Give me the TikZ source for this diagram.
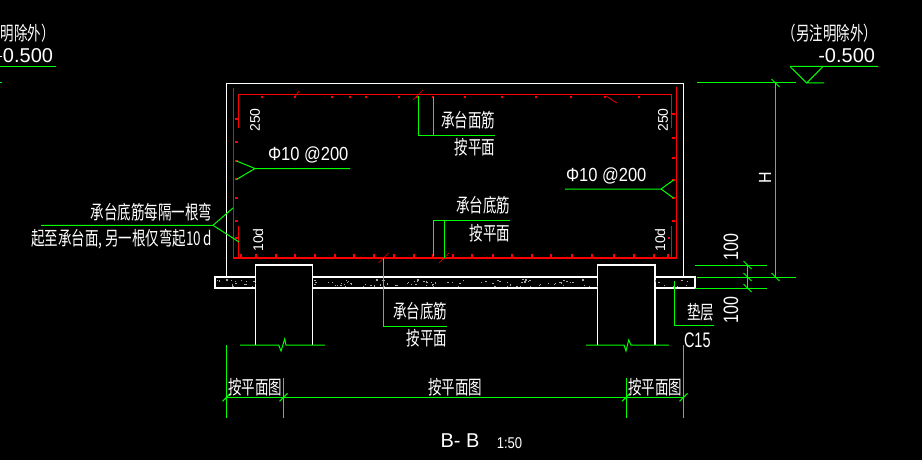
\documentclass[tikz,border=0pt]{standalone}
\usepackage{fontspec}
\setmainfont{Liberation Sans}
\newfontfamily\cjkfont{Noto Sans CJK SC}
\definecolor{cadgreen}{RGB}{0,255,0}
\definecolor{cadred}{RGB}{255,0,0}
\newcommand{\zh}[1]{\scalebox{1}[1.42]{\fontsize{13.5}{14}\cjkfont #1}}
\newcommand{\lat}[3]{\scalebox{1}[#2]{\fontsize{#1}{#1}\selectfont #3}}
\newcommand{\gtick}[2]{\draw[gline] (#1-4,#2+4) -- (#1+4,#2-4);}
\newcommand{\gback}[2]{\draw[gline] (#1-4,#2-4) -- (#1+4,#2+4);}
\newcommand{\rtick}[2]{\draw[rline,line width=.7pt] (#1-5,#2+5) -- (#1+5,#2-5);}
\newcommand{\rdot}[2]{\fill[cadred] (#1-1.2,#2-1.2) rectangle (#1+1.2,#2+1.2);}
\tikzset{
  wline/.style={draw=white,line width=1.15pt},
  rline/.style={draw=cadred,line width=1.15pt},
  gline/.style={draw=cadgreen,line width=1pt},
  lbl/.style={text=white,inner sep=0pt,outer sep=0pt},
}
\begin{document}
\begin{tikzpicture}[x=1pt,y=-1pt]
\fill[black] (0,0) rectangle (922,460);
\useasboundingbox (0,0) rectangle (922,460);
% concrete
\draw[wline] (226.5,277) -- (226.5,83.5) -- (683.5,83.5) -- (683.5,277);
\draw[wline] (255,277) -- (215,277) -- (215,288) -- (255,288);
\draw[wline] (313,277) -- (597,277) (313,288) -- (597,288);
\draw[wline] (655,277) -- (695,277) -- (695,288) -- (655,288);
\draw[wline] (255.5,345) -- (255.5,265) -- (312.5,265) -- (312.5,345);
\draw[wline] (597.5,345) -- (597.5,265) -- (655,265) -- (655,345);
% cushion speckle
\pgfmathsetseed{7}
\foreach \i in {1,...,150}{
  \pgfmathsetmacro{\sx}{217+rnd*476}
  \pgfmathsetmacro{\sy}{279+rnd*7.5}
  \pgfmathparse{(\sx>255 && \sx<312) || (\sx>597 && \sx<655) ? 1 : 0}
  \ifnum\pgfmathresult=0
    \fill[gray!70] (\sx,\sy) rectangle (\sx+1.4,\sy+1.2);
  \fi
}
% rebar
\draw[rline] (238.5,128) -- (238.5,94.7) -- (671.7,94.7) -- (671.7,128);
\draw[rline] (233.5,88) -- (233.5,258) -- (676.5,258) -- (676.5,87);
\draw[rline] (238.5,226) -- (238.5,258);
\draw[rline] (671.7,226) -- (671.7,258);
\foreach \x in {262,295,332,350,366,399,417,433,465,502,536,571,605,639} {\rdot{\x}{97}}
\foreach \y in {119,142,161,179,198,221,238} {\rdot{236.5}{\y}}
\foreach \y in {114,138,158,180,198,221} {\rdot{673.5}{\y}}
\rdot{669}{238}
\foreach \x in {241,256,276,295,315,335,354,374,394,414,433,453,472,493,512,532,551,572,592,614,634,654,668} {\rdot{\x}{255.5}}
\rtick{383.5}{258}
\rtick{444}{258}
\rtick{418}{95}
\draw[rline,line width=.7pt] (606,96) -- (617,103);
\draw[rline,line width=.7pt] (294,98) -- (299,91);
% pile break lines
\draw[gline] (240,345) -- (278.7,345) -- (281,351) -- (284.7,339) -- (286,345) -- (325,345);
\draw[gline] (586,345) -- (624,345) -- (626,351) -- (628.7,340) -- (631,345) -- (669,345);
% right level and dimensions
\draw[gline] (790,66.5) -- (878,66.5) (790,66.5) -- (806.7,83) -- (823,66.5) (806.7,83) -- (824,83);
\draw[gline] (697,83) -- (796,83);
\draw[gline] (775.5,83) -- (775.5,277);
\draw[gline] (697,277) -- (796,277);
\draw[gline] (695,265) -- (767,265) (695,288) -- (767,288);
\draw[gline] (747.5,265) -- (747.5,288);
\gback{775.5}{83}\gback{775.5}{277}\gback{747.5}{265}\gback{747.5}{277}\gback{747.5}{288}
% left level fragment
\draw[gline] (0,66.5) -- (56,66.5) (0,83) -- (2,83);
\draw[wline] (0,56.5) -- (2,56.5);
% leaders
\draw[gline] (350,168.5) -- (255,168.5) -- (236.5,161) (255,168.5) -- (236.5,179.5);
\draw[gline] (565,189) -- (661,189) -- (673.5,180) (661,189) -- (673.5,198);
\draw[gline] (41,225.3) -- (213,225.3) -- (233,208) (213,225.3) -- (239,242);
\draw[gline] (418.5,96) -- (418.5,135) -- (495,135) (433,97) -- (433,135);
\draw[gline] (510,220) -- (433,220) -- (433,256) (444,220) -- (444,258);
\draw[gline] (383.5,258) -- (383.5,326) -- (447,326);
\draw[gline] (674.5,281) -- (674.5,325) -- (714,325);
% bottom dimensions
\draw[gline] (226.5,345) -- (226.5,418) (283.5,378) -- (283.5,418) (626,378) -- (626,418) (683.5,345) -- (683.5,418);
\draw[gline] (226.5,397.3) -- (683.5,397.3);
\gtick{226.5}{397.3}\gtick{283.5}{397.3}\gtick{626}{397.3}\gtick{683.5}{397.3}
% labels
\node[lbl] (noteR) at (830,33) {\zh{（另注明除外）}};
\node[lbl,anchor=east] (levelR) at (875,56) {\lat{20}{1}{-0.500}};
\node[lbl,anchor=east] (noteL) at (55,33) {\zh{明除外）}};
\node[lbl,anchor=east] (levelL) at (53,56) {\lat{20}{1}{0.500}};
\node[lbl,rotate=90] (sizeA) at (255,120) {\lat{14}{1}{250}};
\node[lbl,rotate=90] (sizeB) at (663,120) {\lat{14}{1}{250}};
\node[lbl,rotate=90] (sizeC) at (258,240) {\lat{14}{1}{10d}};
\node[lbl,rotate=90] (sizeD) at (660,240) {\lat{14}{1}{10d}};
\node[lbl,anchor=west] (barA) at (268,155) {\lat{16.5}{1.15}{Φ10 @200}};
\node[lbl,anchor=west] (barB) at (566,176) {\lat{16.5}{1.15}{Φ10 @200}};
\node[lbl,anchor=east] (noteA) at (212,212) {\zh{承台底筋每隔一根弯}};
\node[lbl,anchor=east] (noteB) at (212,239) {\zh{起至承台面, 另一根仅弯起10\,d}};
\node[lbl,anchor=east] (topA) at (495,120) {\zh{承台面筋}};
\node[lbl,anchor=east] (topB) at (495,147) {\zh{按平面}};
\node[lbl,anchor=east] (midA) at (510,205) {\zh{承台底筋}};
\node[lbl,anchor=east] (midB) at (510,233) {\zh{按平面}};
\node[lbl,anchor=east] (lowA) at (447,311) {\zh{承台底筋}};
\node[lbl,anchor=east] (lowB) at (447,338) {\zh{按平面}};
\node[lbl,anchor=east] (padA) at (714,312) {\zh{垫层}};
\node[lbl,anchor=west] (padB) at (684,340) {\lat{14.5}{1.45}{C15}};
\node[lbl,rotate=90] (dimA) at (731,247) {\lat{16}{1.3}{100}};
\node[lbl,rotate=90] (dimB) at (731,310) {\lat{16}{1.3}{100}};
\node[lbl,rotate=90] (dimH) at (765,178) {\lat{16}{1.1}{H}};
\node[lbl] (spanA) at (255,387) {\zh{按平面图}};
\node[lbl] (spanB) at (455,387) {\zh{按平面图}};
\node[lbl] (spanC) at (655,387) {\zh{按平面图}};
\node[lbl] (title) at (460,441) {\lat{20}{1}{B- B}};
\node[lbl] (scaleT) at (509.5,443) {\lat{13}{1.2}{1:50}};
\end{tikzpicture}
\end{document}
